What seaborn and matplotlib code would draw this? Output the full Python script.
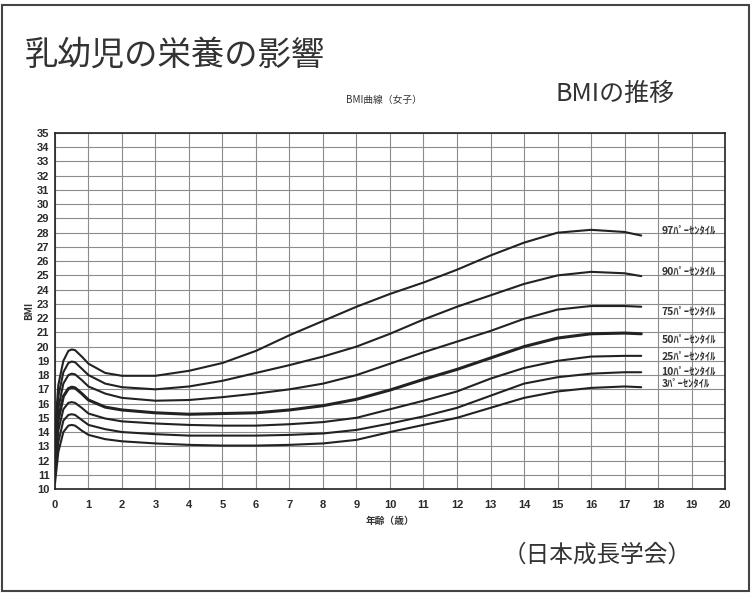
import matplotlib
matplotlib.use("Agg")
import matplotlib.pyplot as plt
import pandas as pd
import seaborn as sns

ages = [0, 0.1, 0.25, 0.4, 0.5, 0.6, 0.8, 1, 1.5, 2, 3, 4, 5, 6, 7, 8, 9,
        10, 11, 12, 13, 14, 15, 16, 17, 17.5]

p97 = [14.0, 17.3, 19.0, 19.7, 19.8, 19.75, 19.3, 18.8, 18.15, 17.95, 17.95,
       18.3, 18.85, 19.7, 20.8, 21.8, 22.8, 23.7, 24.5, 25.4, 26.4, 27.3,
       28.0, 28.2, 28.05, 27.8]
p90 = [13.3, 16.5, 18.2, 18.85, 18.95, 18.9, 18.45, 18.0, 17.4, 17.15, 17.0,
       17.2, 17.6, 18.15, 18.7, 19.3, 20.0, 20.9, 21.9, 22.8, 23.6, 24.4,
       25.0, 25.25, 25.15, 24.95]
p75 = [12.7, 15.7, 17.4, 18.0, 18.1, 18.05, 17.65, 17.2, 16.7, 16.4, 16.2,
       16.25, 16.45, 16.7, 17.0, 17.4, 18.0, 18.8, 19.6, 20.35, 21.1, 21.95,
       22.6, 22.85, 22.85, 22.8]
p50 = [12.2, 14.9, 16.5, 17.05, 17.15, 17.1, 16.7, 16.25, 15.75, 15.55, 15.35,
       15.25, 15.3, 15.35, 15.55, 15.85, 16.3, 16.95, 17.7, 18.4, 19.2, 20.0,
       20.6, 20.9, 20.95, 20.9]
p25 = [11.6, 14.1, 15.6, 16.05, 16.1, 16.05, 15.7, 15.3, 14.95, 14.75, 14.6,
       14.5, 14.45, 14.45, 14.55, 14.7, 15.0, 15.6, 16.2, 16.85, 17.75, 18.5,
       19.0, 19.3, 19.35, 19.35]
p10 = [11.0, 13.3, 14.8, 15.2, 15.25, 15.2, 14.85, 14.5, 14.2, 14.0, 13.85,
       13.75, 13.75, 13.75, 13.8, 13.9, 14.15, 14.6, 15.1, 15.7, 16.55, 17.4,
       17.85, 18.1, 18.2, 18.2]
p3 = [10.4, 12.6, 14.0, 14.45, 14.5, 14.45, 14.1, 13.8, 13.5, 13.35, 13.2,
      13.1, 13.05, 13.05, 13.1, 13.2, 13.45, 14.0, 14.5, 15.0, 15.7, 16.4,
      16.85, 17.1, 17.2, 17.15]

percentiles = ["97", "90", "75", "50", "25", "10", "3"]
series = [p97, p90, p75, p50, p25, p10, p3]
curve_labels = [f"{p}ﾊﾟｰｾﾝﾀｲﾙ" for p in percentiles]

x_ticks = list(range(0, 21))
y_ticks = list(range(10, 36))

df = pd.DataFrame(
    [(a, v, p) for p, vals in zip(percentiles, series) for a, v in zip(ages, vals)],
    columns=["age", "bmi", "percentile"],
)

sns.set_theme(style="white")
plt.rcParams["font.family"] = ["Noto Sans CJK JP", "DejaVu Sans"]

fig = plt.figure(figsize=(7.51, 5.97), dpi=100)
ax = fig.add_axes([0.0732, 0.1809, 0.8922, 0.5963])

line_color = "#222222"
for p in percentiles:
    sub = df[df["percentile"] == p]
    sns.lineplot(data=sub, x="age", y="bmi", ax=ax, color=line_color,
                 linewidth=2.2 if p == "50" else 1.5, legend=False)

ax.set_xlim(0, 20)
ax.set_ylim(10, 35)
tick_font = dict(fontsize=8, fontweight="bold", family="Liberation Sans", color="#2a2a2a")
ax.set_xticks(x_ticks, labels=[str(t) for t in x_ticks], **tick_font)
ax.set_yticks(y_ticks, labels=[str(t) for t in y_ticks], **tick_font)
ax.tick_params(axis="both", length=0)
ax.tick_params(axis="x", pad=8)
ax.tick_params(axis="y", pad=4)
ax.grid(True, color="#8c8c8c", linewidth=0.8)
for s in ax.spines.values():
    s.set_color("#222")
    s.set_linewidth(1.2)

ax.set_xlabel("年齢（歳）", fontsize=7, fontweight="bold", labelpad=4, color="#333")
ax.set_ylabel("BMI", fontsize=7, fontweight="bold", labelpad=2, color="#333")

# percentile labels to the right of the curves
label_y = [28.2, 25.3, 22.5, 20.5, 19.3, 18.3, 17.4]
for txt, y in zip(curve_labels, label_y):
    ax.text(18.1, y, txt, fontsize=7.5, fontweight="bold", va="center", ha="left",
            color="#333", family=["Noto Sans CJK JP", "DejaVu Sans"])

fig.text(25 / 751, 1 - 55 / 597, "乳幼児の栄養の影響", fontsize=24,
         va="center", ha="left", color="#333")
fig.text(555 / 751, 1 - 94 / 597, "BMIの推移", fontsize=18,
         va="center", ha="left", color="#333")
fig.text(384 / 751, 1 - 100 / 597, "BMI曲線（女子）", fontsize=7,
         va="center", ha="center", color="#333")
fig.text(503 / 751, 1 - 555 / 597, "（日本成長学会）", fontsize=17,
         va="center", ha="left", color="#333")

fig.add_artist(plt.Rectangle((0.003, 0.01), 0.994, 0.982, transform=fig.transFigure,
                             fill=False, edgecolor="#444", linewidth=1.5))

fig.savefig("out.png", dpi=100)
